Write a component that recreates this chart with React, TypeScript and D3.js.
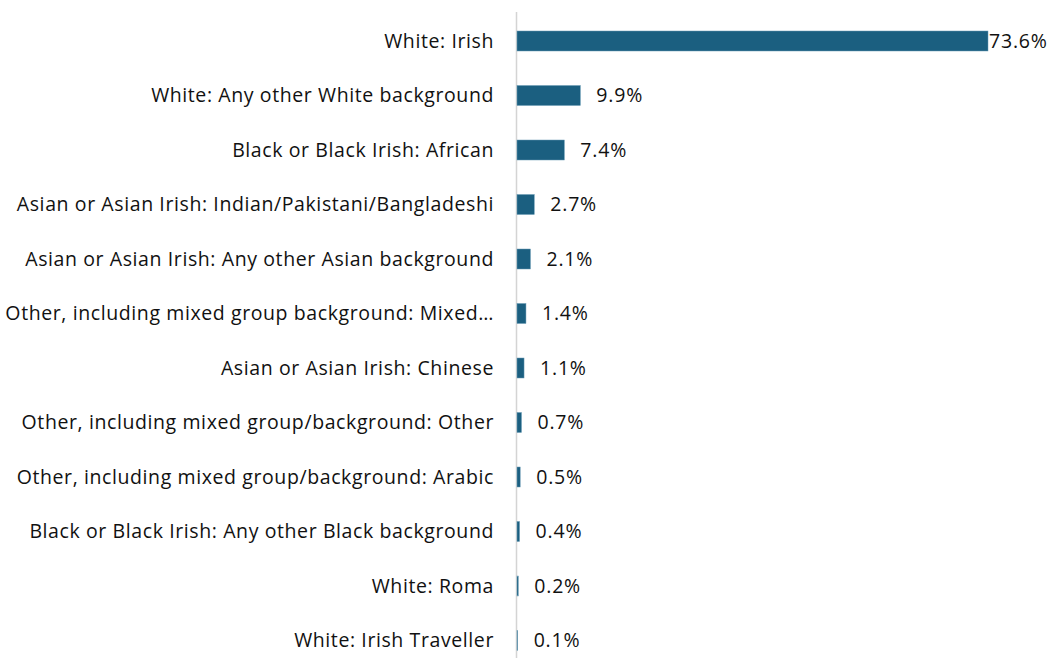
import React from "react";
import * as d3 from "d3";

const categories = [
  "White: Irish",
  "White: Any other White background",
  "Black or Black Irish: African",
  "Asian or Asian Irish: Indian/Pakistani/Bangladeshi",
  "Asian or Asian Irish: Any other Asian background",
  "Other, including mixed group background: Mixed…",
  "Asian or Asian Irish: Chinese",
  "Other, including mixed group/background: Other",
  "Other, including mixed group/background: Arabic",
  "Black or Black Irish: Any other Black background",
  "White: Roma",
  "White: Irish Traveller",
];
const values = [73.6, 9.9, 7.4, 2.7, 2.1, 1.4, 1.1, 0.7, 0.5, 0.4, 0.2, 0.1];

const W = 1052;
const H = 658;
const x0 = 517;
const FONT = "'Open Sans', Lato, sans-serif";

export default function App() {
  const x = d3.scaleLinear().domain([0, 73.6]).range([x0, 988]);
  const y = d3
    .scaleBand<string>()
    .domain(categories)
    .range([13.75, 667.75])
    .paddingInner(0.633)
    .paddingOuter(0.3165);
  const bw = y.bandwidth();
  return (
    <svg
      width={W}
      height={H}
      style={{ position: "absolute", left: 0, top: 0, background: "#fff" }}
      fontFamily={FONT}
    >
      <line x1={516.5} x2={516.5} y1={12} y2={H} stroke="#d4d4d4" strokeWidth={1.5} />
      {categories.map((c, i) => {
        const yy = y(c)!;
        const cy = yy + bw / 2;
        const end = x(values[i]);
        return (
          <g key={c}>
            <rect
              x={x0}
              y={yy}
              width={Math.max(0, end - x0)}
              height={bw}
              fill="#1b5f80"
              stroke="#6a9bb5"
              strokeWidth={0.5}
            />
            <text
              x={494}
              y={cy}
              dy="0.35em"
              textAnchor="end"
              fontSize={19.5}
              letterSpacing={0.6}
              fill="#111"
            >
              {c}
            </text>
            <text
              x={Math.min(end + 16, 989)}
              y={cy}
              dy="0.35em"
              fontSize={19.5}
              letterSpacing={0.8}
              fill="#111"
            >
              {values[i].toFixed(1)}%
            </text>
          </g>
        );
      })}
    </svg>
  );
}
